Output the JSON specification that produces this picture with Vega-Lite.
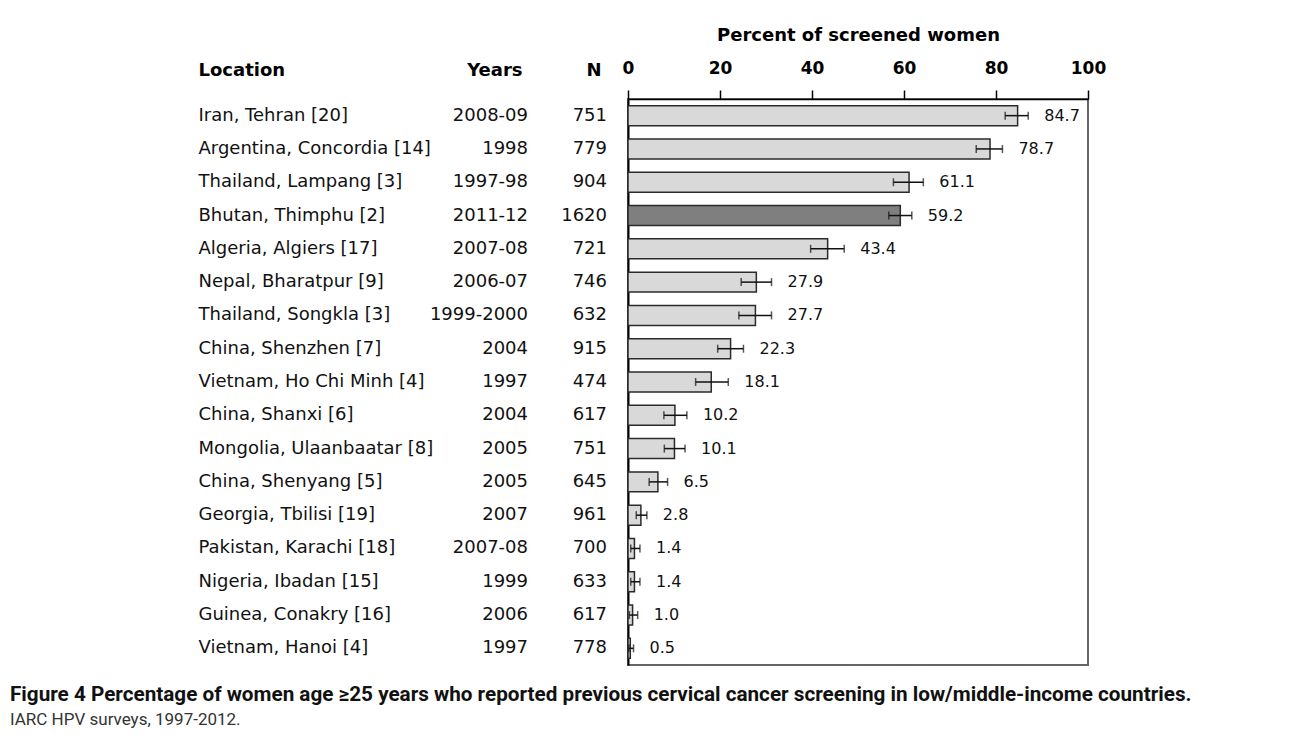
{
  "$schema": "https://vega.github.io/schema/vega-lite/v6.json",
  "background": "white",
  "padding": {"left": 10, "top": 26, "right": 10, "bottom": 5},
  "title": {
    "text": "Figure 4 Percentage of women age ≥25 years who reported previous cervical cancer screening in low/middle-income countries.",
    "subtitle": "IARC HPV surveys, 1997-2012.",
    "orient": "bottom",
    "anchor": "start",
    "frame": "bounds",
    "dx": -188,
    "offset": 20,
    "font": "Roboto",
    "fontSize": 20.7,
    "fontWeight": "bold",
    "color": "#111111",
    "subtitleFont": "Roboto",
    "subtitleFontSize": 17,
    "subtitleColor": "#333333",
    "subtitlePadding": 6
  },
  "datasets": {
    "rows": [
      {"loc": "Iran, Tehran [20]", "years": "2008-09", "n": 751, "pct": 84.7, "lo": 82.0, "hi": 87.0},
      {"loc": "Argentina, Concordia [14]", "years": "1998", "n": 779, "pct": 78.7, "lo": 75.7, "hi": 81.4},
      {"loc": "Thailand, Lampang [3]", "years": "1997-98", "n": 904, "pct": 61.1, "lo": 57.7, "hi": 64.2},
      {"loc": "Bhutan, Thimphu [2]", "years": "2011-12", "n": 1620, "pct": 59.2, "lo": 56.7, "hi": 61.7},
      {"loc": "Algeria, Algiers [17]", "years": "2007-08", "n": 721, "pct": 43.4, "lo": 39.7, "hi": 47.0},
      {"loc": "Nepal, Bharatpur [9]", "years": "2006-07", "n": 746, "pct": 27.9, "lo": 24.6, "hi": 31.2},
      {"loc": "Thailand, Songkla [3]", "years": "1999-2000", "n": 632, "pct": 27.7, "lo": 24.1, "hi": 31.2},
      {"loc": "China, Shenzhen [7]", "years": "2004", "n": 915, "pct": 22.3, "lo": 19.5, "hi": 25.1},
      {"loc": "Vietnam, Ho Chi Minh [4]", "years": "1997", "n": 474, "pct": 18.1, "lo": 14.7, "hi": 21.8},
      {"loc": "China, Shanxi [6]", "years": "2004", "n": 617, "pct": 10.2, "lo": 7.8, "hi": 12.8},
      {"loc": "Mongolia, Ulaanbaatar [8]", "years": "2005", "n": 751, "pct": 10.1, "lo": 7.9, "hi": 12.4},
      {"loc": "China, Shenyang [5]", "years": "2005", "n": 645, "pct": 6.5, "lo": 4.6, "hi": 8.6},
      {"loc": "Georgia, Tbilisi [19]", "years": "2007", "n": 961, "pct": 2.8, "lo": 1.8, "hi": 4.1},
      {"loc": "Pakistan, Karachi [18]", "years": "2007-08", "n": 700, "pct": 1.4, "lo": 0.6, "hi": 2.6},
      {"loc": "Nigeria, Ibadan [15]", "years": "1999", "n": 633, "pct": 1.4, "lo": 0.6, "hi": 2.6},
      {"loc": "Guinea, Conakry [16]", "years": "2006", "n": 617, "pct": 1.0, "lo": 0.3, "hi": 2.1},
      {"loc": "Vietnam, Hanoi [4]", "years": "1997", "n": 778, "pct": 0.5, "lo": 0.2, "hi": 1.2}
    ]
  },
  "data": {"name": "rows"},
  "width": 460,
  "height": 566,
  "layer": [
    {
      "mark": {"type": "bar", "stroke": "#2b2b2b", "strokeWidth": 1.5},
      "encoding": {
        "y": {
          "field": "loc", "type": "nominal", "sort": null,
          "scale": {"paddingInner": 0.4, "paddingOuter": 0.2},
          "axis": {
            "orient": "left", "labelAlign": "left", "labelPadding": 430, "tickSize": 0, "ticks": false,
            "domain": true, "domainColor": "#000000", "domainWidth": 2,
            "labelFont": "DejaVu Sans", "labelFontSize": 18, "labelColor": "#111111", "labelLimit": 400,
            "title": "Location", "titleAngle": 0, "titleAlign": "left", "titleBaseline": "alphabetic",
            "titleX": -430, "titleY": -24, "titleFont": "DejaVu Sans", "titleFontSize": 18,
            "titleFontWeight": "bold", "titleColor": "#000000"
          }
        },
        "x": {
          "field": "pct", "type": "quantitative", "title": "Percent of screened women",
          "scale": {"domain": [0, 100], "nice": false},
          "axis": {
            "orient": "top", "values": [0, 20, 40, 60, 80, 100], "grid": false, "labelFlush": false,
            "tickSize": 9, "tickColor": "#000000", "tickWidth": 1.5,
            "domainColor": "#000000", "domainWidth": 1.5,
            "labelFont": "DejaVu Sans", "labelFontSize": 17, "labelFontWeight": "bold", "labelColor": "#000000",
            "labelPadding": 13,
            "titleFont": "DejaVu Sans", "titleFontSize": 18, "titleFontWeight": "bold", "titleColor": "#000000",
            "titlePadding": 15
          }
        },
        "fill": {
          "condition": {"test": "datum.loc === 'Bhutan, Thimphu [2]'", "value": "#7f7f7f"},
          "value": "#d9d9d9"
        }
      }
    },
    {
      "mark": {
        "type": "errorbar",
        "ticks": {"size": 8, "thickness": 1.5, "color": "#111111"},
        "rule": {"strokeWidth": 1.5, "color": "#111111"}
      },
      "encoding": {
        "x": {"field": "lo", "type": "quantitative", "scale": {"domain": [0, 100], "nice": false, "zero": true}, "axis": null},
        "x2": {"field": "hi"},
        "y": {"field": "loc", "type": "nominal", "sort": null, "title": "Location"}
      }
    },
    {
      "mark": {"type": "text", "align": "left", "baseline": "middle", "dx": 16, "font": "DejaVu Sans", "fontSize": 16, "color": "#111111"},
      "encoding": {
        "x": {"field": "hi", "type": "quantitative", "scale": {"domain": [0, 100], "nice": false, "zero": true}, "axis": null},
        "y": {"field": "loc", "type": "nominal", "sort": null, "title": "Location"},
        "text": {"field": "pct", "type": "quantitative", "format": ".1f"}
      }
    },
    {
      "transform": [{"fold": ["years", "n"], "as": ["col", "val"]}],
      "mark": {"type": "text", "align": "right", "baseline": "middle", "font": "DejaVu Sans", "fontSize": 18, "color": "#111111"},
      "encoding": {
        "x": {
          "field": "col", "type": "nominal",
          "scale": {"type": "point", "domain": ["years", "n"], "range": [-100, -21], "padding": 0},
          "axis": {
            "orient": "top", "title": null, "ticks": false, "tickSize": 0, "domain": false, "grid": false,
            "labelExpr": "datum.value === 'years' ? 'Years' : 'N'",
            "labelAlign": "right", "labelOffset": -6, "labelPadding": 20, "labelAngle": 0,
            "labelFont": "DejaVu Sans", "labelFontSize": 18, "labelFontWeight": "bold", "labelColor": "#000000"
          }
        },
        "y": {"field": "loc", "type": "nominal", "sort": null, "title": "Location"},
        "text": {"field": "val", "type": "nominal"}
      }
    }
  ],
  "resolve": {"scale": {"x": "independent"}, "axis": {"x": "independent"}},
  "config": {
    "view": {"stroke": "#666666", "strokeWidth": 2}
  }
}
